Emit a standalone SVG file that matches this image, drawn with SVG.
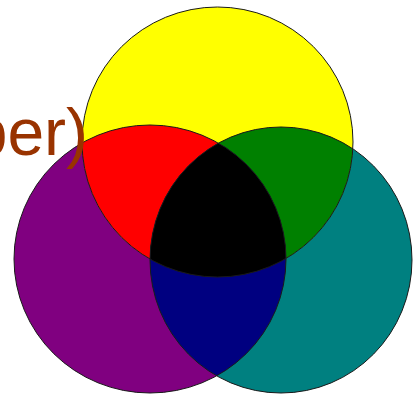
<svg xmlns="http://www.w3.org/2000/svg" width="413" height="396" viewBox="0 0 413 396">
  <style>
    .outline { fill: none; stroke: #1a1a1a; stroke-width: 1; }
    .label { font-family: "Liberation Sans", Arial, sans-serif; font-size: 66px; fill: #993300; }
  </style>
  <defs>
    <clipPath id="clipYellow"><ellipse cx="217.5" cy="142" rx="135.5" ry="135"/></clipPath>
    <clipPath id="clipPurple"><ellipse cx="150" cy="259" rx="136" ry="134"/></clipPath>
    <clipPath id="clipTeal"><ellipse cx="281" cy="260" rx="131" ry="133"/></clipPath>
  </defs>
  <rect width="413" height="396" fill="#ffffff"/>
  <g id="purple-circle">
    <ellipse cx="150" cy="259" rx="136" ry="134" fill="#800080"/>
  </g>
  <g id="teal-circle">
    <ellipse cx="281" cy="260" rx="131" ry="133" fill="#008080"/>
  </g>
  <g id="yellow-circle">
    <ellipse cx="217.5" cy="142" rx="135.5" ry="135" fill="#ffff00"/>
  </g>
  <g id="red-region" clip-path="url(#clipPurple)">
    <ellipse cx="217.5" cy="142" rx="135.5" ry="135" fill="#ff0000"/>
  </g>
  <g id="green-region" clip-path="url(#clipTeal)">
    <ellipse cx="217.5" cy="142" rx="135.5" ry="135" fill="#008000"/>
  </g>
  <g id="blue-region" clip-path="url(#clipTeal)">
    <ellipse cx="150" cy="259" rx="136" ry="134" fill="#000080"/>
  </g>
  <g id="black-region" clip-path="url(#clipTeal)">
    <g clip-path="url(#clipPurple)">
      <ellipse cx="217.5" cy="142" rx="135.5" ry="135" fill="#000000"/>
    </g>
  </g>
  <g id="outlines">
    <ellipse class="outline" cx="150" cy="259" rx="136" ry="134"/>
    <ellipse class="outline" cx="281" cy="260" rx="131" ry="133"/>
    <ellipse class="outline" cx="217.5" cy="142" rx="135.5" ry="135"/>
  </g>
  <text class="label" x="-29.3" y="155">per)</text>
</svg>
